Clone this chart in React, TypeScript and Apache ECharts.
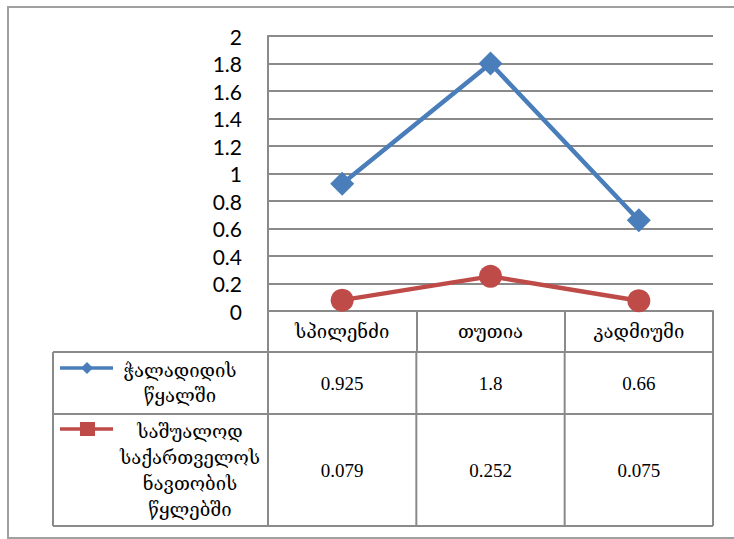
import React, { useEffect, useRef } from "react";
import * as echarts from "echarts";

const categories = ["სპილენძი", "თუთია", "კადმიუმი"];
const seriesNames = ["ჭალადიდის\nწყალში", "საშუალოდ\nსაქართველოს\nნავთობის\nწყლებში"];
const seriesA = [0.925, 1.8, 0.66];
const seriesB = [0.079, 0.252, 0.075];
const tableA = ["0.925", "1.8", "0.66"];
const tableB = ["0.079", "0.252", "0.075"];
const yMin = 0;
const yMax = 2;
const yStep = 0.2;

const BLUE = "#4A7EBB";
const RED = "#BE4B48";
const GRID = "#8A8A8A";
const GEO = "DejaVu Serif";
const NUM = "Liberation Serif";

export default function App() {
  const ref = useRef<HTMLDivElement>(null);
  useEffect(() => {
    if (!ref.current) return;
    const chart = echarts.init(ref.current, null, { renderer: "svg" });
    const gl = 268, gt = 36, gr = 713, gb = 311;
    const W = 734, H = 539;
    chart.setOption({
      animation: false,
      backgroundColor: "#fff",
      grid: { left: gl, top: gt, right: W - gr, bottom: H - gb, containLabel: false },
      xAxis: {
        type: "category",
        data: categories,
        boundaryGap: true,
        axisLine: { lineStyle: { color: GRID, width: 2 } },
        axisTick: { show: true, length: 41, interval: 0, lineStyle: { color: GRID, width: 2 } },
        axisLabel: { color: "#000", fontFamily: GEO, fontSize: 18.5, margin: 20, verticalAlign: "middle", interval: 0 },
      },
      yAxis: {
        type: "value",
        min: yMin,
        max: yMax,
        interval: yStep,
        axisLine: { show: true, lineStyle: { color: GRID, width: 2 } },
        axisTick: { show: false },
        splitLine: { lineStyle: { color: GRID, width: 2 } },
        axisLabel: { color: "#000", fontFamily: "Lato", fontSize: 21, margin: 26 },
      },
      series: [
        {
          name: seriesNames[0],
          type: "line",
          data: seriesA,
          symbol: "diamond",
          symbolSize: 24,
          lineStyle: { color: BLUE, width: 4.5 },
          itemStyle: { color: BLUE },
        },
        {
          name: seriesNames[1],
          type: "line",
          data: seriesB,
          symbol: "circle",
          symbolSize: 23,
          lineStyle: { color: RED, width: 4.5 },
          itemStyle: { color: RED },
        },
      ],
    });

    const colW = (gr - gl) / categories.length;
    const tl = 53, r0 = gb, r1 = 352, r2 = 414, r3 = 526;
    const ln = (x1: number, y1: number, x2: number, y2: number) => ({
      type: "line",
      shape: { x1, y1, x2, y2 },
      style: { stroke: GRID, lineWidth: 2 },
      silent: true,
    });
    const els: any[] = [
      {
        type: "rect",
        shape: { x: 8, y: 7, width: 735, height: 531 },
        style: { fill: "none", stroke: "#A0A0A0", lineWidth: 2 },
        silent: true,
      },
      ln(gr, r0, gr, r3),
      ln(tl, r1, gr, r1),
      ln(tl, r2, gr, r2),
      ln(tl, r3, gr, r3),
      ln(tl, r1, tl, r3),
    ];
    for (let i = 0; i <= categories.length; i++) {
      els.push(ln(gl + i * colW, r1, gl + i * colW, r3));
    }
    categories.forEach((c, i) => {
      const x = chart.convertToPixel({ xAxisIndex: 0 }, c) as number;
      els.push({
        type: "text",
        x, y: (r1 + r2) / 2,
        style: { text: tableA[i], font: `19px "${NUM}"`, fill: "#000", align: "center", verticalAlign: "middle" },
      });
      els.push({
        type: "text",
        x, y: (r2 + r3) / 2,
        style: { text: tableB[i], font: `19px "${NUM}"`, fill: "#000", align: "center", verticalAlign: "middle" },
      });
    });
    els.push(
      { type: "line", shape: { x1: 60, y1: 368, x2: 113, y2: 368 }, style: { stroke: BLUE, lineWidth: 3.5 } },
      { type: "polygon", shape: { points: [[87, 362], [93, 368], [87, 374], [81, 368]] }, style: { fill: BLUE } },
      { type: "line", shape: { x1: 60, y1: 429, x2: 113, y2: 429 }, style: { stroke: RED, lineWidth: 3.5 } },
      { type: "rect", shape: { x: 80, y: 422, width: 15, height: 14 }, style: { fill: RED } },
      {
        type: "text", x: 180, y: 383,
        style: { text: seriesNames[0], font: `18.5px "${GEO}"`, lineHeight: 25, fill: "#000", align: "center", verticalAlign: "middle" },
      },
      {
        type: "text", x: 190, y: 470,
        style: { text: seriesNames[1], font: `18.5px "${GEO}"`, lineHeight: 26, fill: "#000", align: "center", verticalAlign: "middle" },
      }
    );
    chart.setOption({ graphic: els });
    return () => chart.dispose();
  }, []);
  return <div ref={ref} style={{ position: "fixed", left: 0, top: 0, width: 734, height: 539 }} />;
}
